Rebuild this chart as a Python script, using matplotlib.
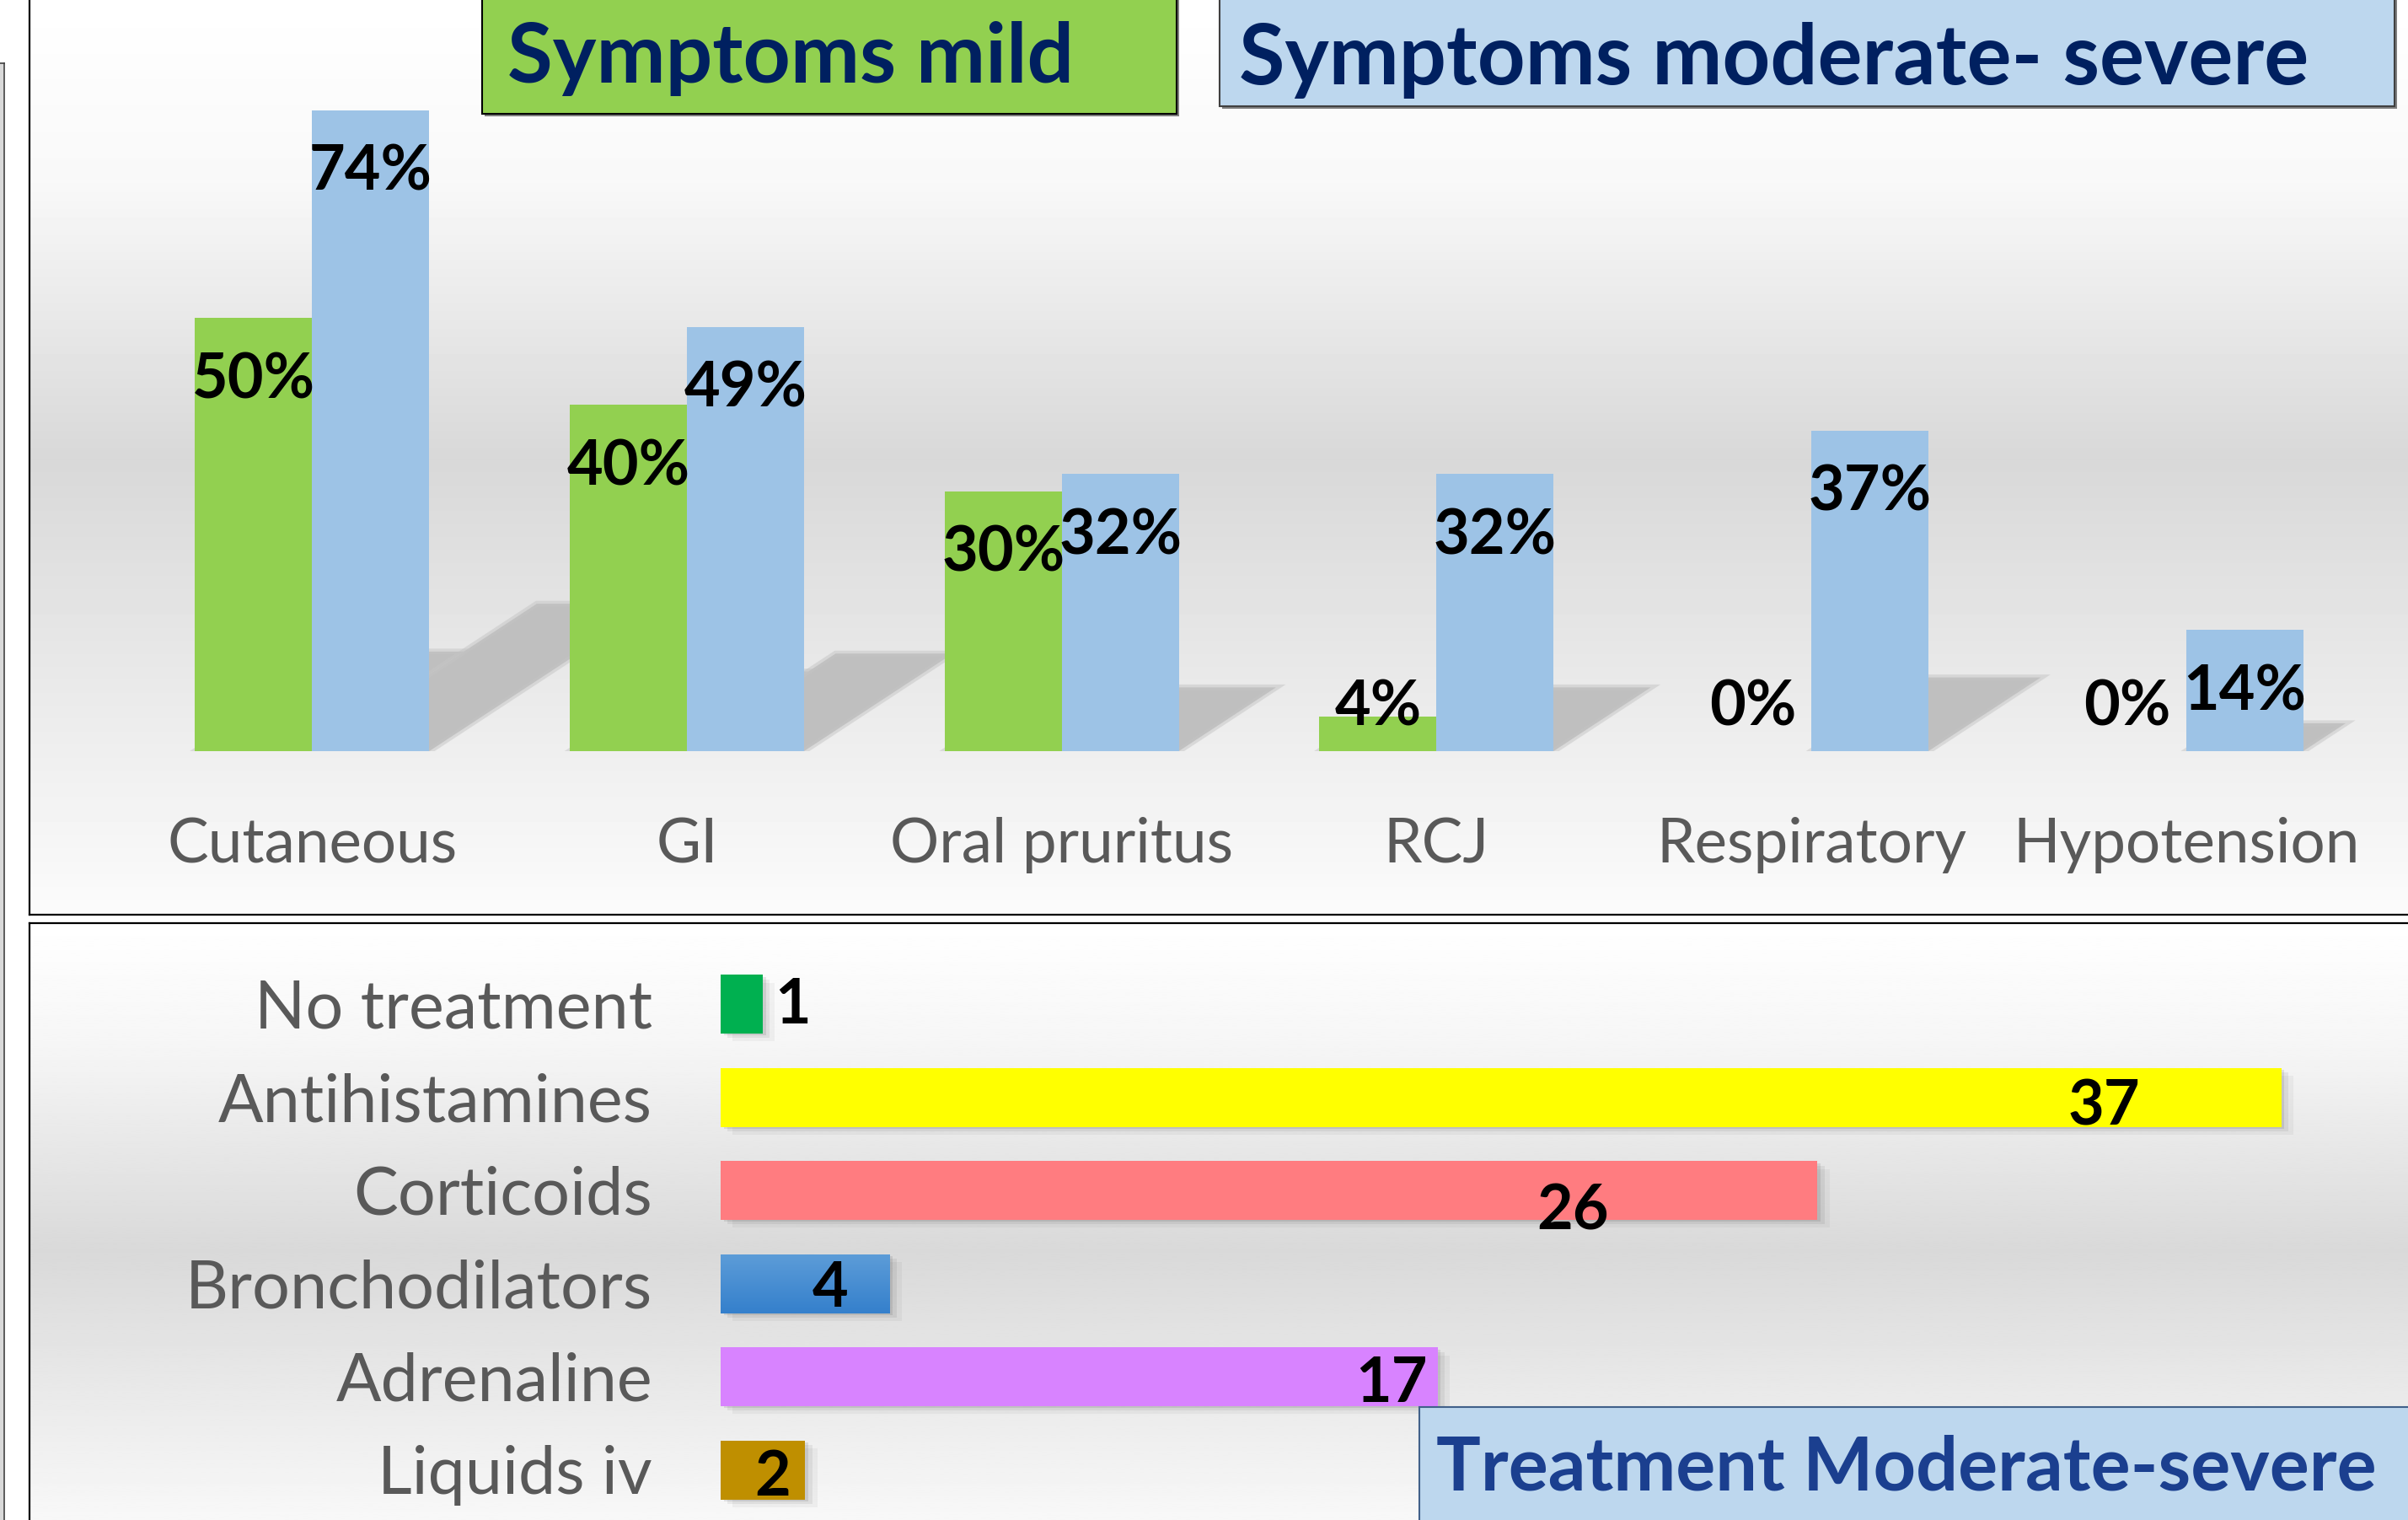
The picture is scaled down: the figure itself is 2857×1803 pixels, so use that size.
import numpy as np
import matplotlib
matplotlib.use("Agg")
import matplotlib.pyplot as plt
from matplotlib.patches import Rectangle, Polygon
from matplotlib.colors import LinearSegmentedColormap

plt.rcParams["font.family"] = ["Lato", "DejaVu Sans"]

# 1. Data
symptoms = ["Cutaneous", "GI", "Oral pruritus", "RCJ", "Respiratory", "Hypotension"]
mild_pct = [50, 40, 30, 4, 0, 0]
mod_severe_pct = [74, 49, 32, 32, 37, 14]

treatments = ["No treatment", "Antihistamines", "Corticoids",
              "Bronchodilators", "Adrenaline", "Liquids iv"]
treatment_n = [1, 37, 26, 4, 17, 2]

# 2. Style
GREEN = "#92d050"
BLUE = "#9dc3e6"
NAVY = "#002060"
GREY_TXT = "#595959"
treat_colors = ["#00b050", "#ffff00", "#ff7c80", "#4a8ad2", "#d883ff", "#bf8f00"]
# hand placed value labels in the lower chart (offsets from bar end / row)
treat_label_dx = [0.7, -4.2, -5.8, -1.4, -1.1, -0.77]
treat_label_dy = [-0.06, 0.03, 0.15, -0.02, 0.0, 0.0]

W, H = 2857, 1803
fig = plt.figure(figsize=(W / 100, H / 100), dpi=100)
renderer = fig.canvas.get_renderer()


def fit_width(txt, px):
    bb = txt.get_window_extent(renderer)
    txt.set_fontsize(txt.get_fontsize() * px / bb.width)
    return txt.get_fontsize()


# 3. Background panels (pixel coords)
bg = fig.add_axes([0, 0, 1, 1], zorder=0)


def panel(x0, y0, y1, stops, greys):
    col = np.interp(np.linspace(0, 1, 256), stops, greys) / 255
    img = np.repeat(col[:, None], 2, axis=1)
    bg.imshow(img, cmap="gray", vmin=0, vmax=1, extent=(x0, W, y1, y0),
              aspect="auto", interpolation="bilinear")


panel(35, 0, 1085, [0, 0.2, 0.5, 1], [255, 248, 216, 251])
panel(35, 1095, H, [0, 0.2, 0.55, 1], [255, 246, 217, 248])
bg.plot([35, 35], [0, 1085], color="black", lw=1.6)
bg.plot([35, W], [1085, 1085], color="black", lw=1.6)
bg.plot([35, W], [1095, 1095], color="black", lw=1.6)
bg.plot([35, 35], [1095, H], color="black", lw=1.6)
bg.add_patch(Rectangle((0, 75), 4, H - 75, fc="#d9d9d9", ec="none"))
bg.plot([5, 5], [75, H], color="#404040", lw=1.2)
bg.plot([0, 5], [75, 75], color="#404040", lw=1.2)
bg.set_xlim(0, W)
bg.set_ylim(H, 0)
bg.axis("off")

# 4. Symptoms chart
ax1 = fig.add_axes([148 / W, (H - 891) / H, 2668 / W, 873 / H], zorder=1)
ax1.patch.set_alpha(0)
x = np.arange(len(symptoms))
bw = 0.3125
ax1.bar(x - bw / 2, mild_pct, bw, color=GREEN, zorder=3)
ax1.bar(x + bw / 2, mod_severe_pct, bw, color=BLUE, zorder=3)

k, sx = 0.23, 0.0081
series = [(x - bw / 2, mild_pct), (x + bw / 2, mod_severe_pct)]
for xs, vals in series:
    for xc, v in zip(xs, vals):
        if v == 0:
            continue
        x0, x1 = xc - bw / 2, xc + bw / 2
        poly = [(x0, 0), (x1, 0), (x1 + sx * v, k * v), (x0 + sx * v, k * v)]
        ax1.add_patch(Polygon(poly, closed=True, fc="#bfbfbf",
                              ec=(0.77, 0.77, 0.77, 0.5), lw=5, zorder=1))

t = ax1.text(0 + bw / 2, 0, "74%", fontweight="bold", fontsize=55)
val_size = fit_width(t, 146)
t.remove()
for xs, vals in series:
    for xc, v in zip(xs, vals):
        ax1.text(xc, max(v - 9.25, 3.0), f"{v}%", ha="center", va="baseline",
                 fontsize=val_size, fontweight="bold", color="black", zorder=4)

t = ax1.text(0, 0, "Cutaneous", fontsize=54)
cat_size = fit_width(t, 344)
t.remove()
for i, name in enumerate(symptoms):
    ax1.text(i, -12.9, name, ha="center", va="baseline", color=GREY_TXT,
             fontsize=cat_size, clip_on=False)

ax1.set_xlim(-0.5, 5.5)
ax1.set_ylim(0, 85)
ax1.axis("off")

# 5. Treatment chart
ax2 = fig.add_axes([855 / W, (H - 1799) / H, 2002 / W, 663 / H], zorder=1)
ax2.patch.set_alpha(0)
yy = np.arange(len(treatments))
bh = 0.63
bars = ax2.barh(yy, treatment_n, height=bh, color=treat_colors, zorder=3)

for yi, n in zip(yy, treatment_n):
    for d, a in [(0.06, 0.09), (0.14, 0.06), (0.24, 0.04)]:
        ax2.add_patch(Rectangle((d * 1.2, yi - bh / 2 + d * 0.35), n, bh,
                                fc="black", alpha=a, lw=0, zorder=2))

bd_cmap = LinearSegmentedColormap.from_list("bd", ["#5c9cd8", "#3580cc"])
im = ax2.imshow(np.linspace(0, 1, 64)[:, None], cmap=bd_cmap, aspect="auto",
                extent=(0, treatment_n[3], yy[3] + bh / 2, yy[3] - bh / 2),
                zorder=3.5)
im.set_clip_path(bars[3])

for yi, n, dx, dy in zip(yy, treatment_n, treat_label_dx, treat_label_dy):
    ax2.text(n + dx, yi + 0.27 + dy, str(n), ha="center", va="baseline",
             fontsize=val_size, fontweight="bold", color="black", zorder=4)

t = ax2.text(0, 0, "Antihistamines", fontsize=58)
tcat_size = fit_width(t, 514)
t.remove()
for yi, name in zip(yy, treatments):
    ax2.text(-1.62, yi + 0.26, name, ha="right", va="baseline",
             color=GREY_TXT, fontsize=tcat_size, clip_on=False)

ax2.set_xlim(0, 40)
ax2.set_ylim(5.5, -0.5)
ax2.axis("off")

# 6. Title boxes
ov = fig.add_axes([0, 0, 1, 1], zorder=3)
ov.set_xlim(0, W)
ov.set_ylim(H, 0)
ov.axis("off")


def box(x0, y0, x1, y1, fc, ec):
    ov.add_patch(Rectangle((x0 + 3, y0 + 3), x1 - x0, y1 - y0, fc="#7f7f7f", ec="none"))
    ov.add_patch(Rectangle((x0, y0), x1 - x0, y1 - y0, fc=fc, ec=ec, lw=1.5))


box(572, -10, 1396, 135, GREEN, "black")
box(1447, -10, 2841, 126, "#bdd7ee", "#404040")
box(1684, 1669, W + 20, H + 20, "#bdd7ee", "#41618a")

t1 = ov.text(602, 98, "Symptoms mild", ha="left", va="baseline",
             color=NAVY, fontweight="bold", fontsize=70)
fit_width(t1, 672)
t2 = ov.text(1470, 100, "Symptoms moderate- severe", ha="left", va="baseline",
             color=NAVY, fontweight="bold", fontsize=70)
fit_width(t2, 1270)
t3 = ov.text(1704, 1768, "Treatment Moderate-severe", ha="left", va="baseline",
             color="#1b3f8f", fontweight="bold", fontsize=60)
fit_width(t3, 1116)

fig.savefig("out.png", dpi=100)
